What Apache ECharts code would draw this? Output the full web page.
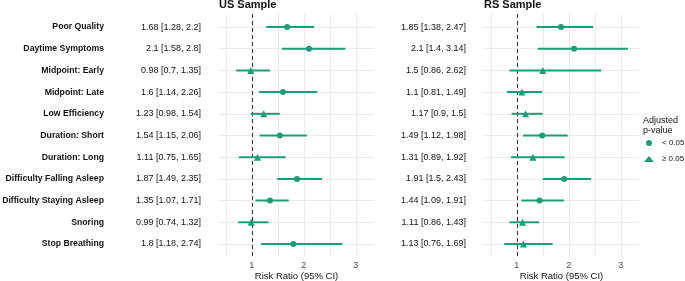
<!DOCTYPE html>
<html>
<head>
<meta charset="utf-8">
<script src="https://cdn.jsdelivr.net/npm/echarts@6/dist/echarts.min.js"></script>
<style>
	html, body { margin: 0; padding: 0; background: #fff; }
	#main { width: 685px; height: 281px; }
</style>
</head>
<body>
<div id="main"></div>
<script>
'use strict';

var categories = ['Poor Quality', 'Daytime Symptoms', 'Midpoint: Early', 'Midpoint: Late', 'Low Efficiency',
	'Duration: Short', 'Duration: Long', 'Difficulty Falling Asleep', 'Difficulty Staying Asleep', 'Snoring', 'Stop Breathing'];

// US sample
var usEst = [1.68, 2.1, 0.98, 1.6, 1.23, 1.54, 1.11, 1.87, 1.35, 0.99, 1.8];
var usLow = [1.28, 1.58, 0.7, 1.14, 0.98, 1.15, 0.75, 1.49, 1.07, 0.74, 1.18];
var usHigh = [2.2, 2.8, 1.35, 2.26, 1.54, 2.06, 1.65, 2.35, 1.71, 1.32, 2.74];
var usSig = [1, 1, 0, 1, 0, 1, 0, 1, 1, 0, 1]; // 1 = adjusted p < 0.05

// RS sample
var rsEst = [1.85, 2.1, 1.5, 1.1, 1.17, 1.49, 1.31, 1.91, 1.44, 1.11, 1.13];
var rsLow = [1.38, 1.4, 0.86, 0.81, 0.9, 1.12, 0.89, 1.5, 1.09, 0.86, 0.76];
var rsHigh = [2.47, 3.14, 2.62, 1.49, 1.5, 1.98, 1.92, 2.43, 1.91, 1.43, 1.69];
var rsSig = [1, 1, 0, 0, 0, 1, 0, 1, 1, 0, 0];

var xTicks = [1, 2, 3];
var xGrid = [0.5, 1, 1.5, 2, 2.5, 3];
var legendNames = ['< 0.05', '\u2265 0.05'];

var GREEN = '#1B9E77';
var FONT = 'Liberation Sans, Arial, sans-serif';

var rowIdx = categories.map(function (c, i) { return i + 1; });

function ciText(est, low, high, i) {
	return est[i] + ' [' + low[i] + ', ' + high[i] + ']';
}

//背景网格线
function gridSeries(k) {
	var lines = [];
	xGrid.forEach(function (v) { lines.push({ xAxis: v }); });
	rowIdx.forEach(function (v) { lines.push({ yAxis: v }); });
	return {
		type: 'line', xAxisIndex: k, yAxisIndex: k, data: [], z: 1, silent: true,
		markLine: {
			z: 1, silent: true, symbol: 'none', animation: false,
			label: { show: false },
			emphasis: { disabled: true },
			lineStyle: { color: '#EBEBEB', width: 1, type: 'solid' },
			data: lines
		}
	};
}

//x=1 参考线
function refSeries(k) {
	return {
		type: 'line', xAxisIndex: k, yAxisIndex: k, data: [], z: 2, silent: true,
		markLine: {
			z: 2, silent: true, symbol: 'none', animation: false,
			label: { show: false },
			emphasis: { disabled: true },
			lineStyle: { color: '#3a3a3a', width: 1.1, type: [4, 3] },
			data: [{ xAxis: 1 }]
		}
	};
}

function barSeries(k, low, high) {
	return {
		type: 'custom', xAxisIndex: k, yAxisIndex: k, z: 3, silent: true,
		data: low.map(function (v, i) { return [v, high[i], i + 1]; }),
		renderItem: function (params, api) {
			var a = api.coord([api.value(0), api.value(2)]);
			var b = api.coord([api.value(1), api.value(2)]);
			return {
				type: 'line',
				shape: { x1: a[0], y1: a[1], x2: b[0], y2: b[1] },
				style: { stroke: GREEN, lineWidth: 2 }
			};
		}
	};
}

function pointSeries(k, est, sig, want) {
	var data = [];
	for (var i = 0; i < est.length; i++) {
		if (sig[i] == want) {
			data.push([est[i], i + 1]);
		}
	}
	return {
		type: 'scatter', name: want ? legendNames[0] : legendNames[1],
		xAxisIndex: k, yAxisIndex: k, z: 4,
		symbol: want ? 'circle' : 'triangle',
		symbolSize: want ? 6 : 7,
		itemStyle: { color: GREEN, opacity: 1 },
		data: data
	};
}

function xAxisFor(k) {
	return {
		type: 'value', gridIndex: k, min: 0.37, max: 3.35,
		axisLine: { show: false }, axisTick: { show: false }, splitLine: { show: false },
		axisLabel: { customValues: xTicks, color: '#4D4D4D', fontSize: 9, fontFamily: FONT, margin: 4 },
		name: 'Risk Ratio (95% CI)', nameLocation: 'middle', nameGap: 14, nameMoveOverlap: false,
		nameTextStyle: { color: '#111', fontSize: 9.5, fontFamily: FONT }
	};
}

function yAxisFor(k, margin, formatter, rich) {
	return {
		type: 'value', gridIndex: k, min: 0.4, max: 11.6, inverse: true,
		axisLine: { show: false }, axisTick: { show: false }, splitLine: { show: false },
		axisLabel: {
			customValues: rowIdx, margin: margin, color: '#111', fontSize: 9, fontFamily: FONT,
			formatter: formatter, rich: rich
		}
	};
}

var usRich = {
	n: { fontWeight: 'bold', fontSize: 8.7, fontFamily: FONT, color: '#111', width: 104, align: 'right' },
	e: { fontSize: 9, fontFamily: FONT, color: '#111', width: 97, align: 'right' }
};

var option = {
	animation: false,
	backgroundColor: '#fff',
	title: [
		{ text: 'US Sample', left: 219, top: -1, padding: 0, textStyle: { fontSize: 11, fontWeight: 'bold', color: '#111', fontFamily: FONT } },
		{ text: 'RS Sample', left: 484, top: -1, padding: 0, textStyle: { fontSize: 11, fontWeight: 'bold', color: '#111', fontFamily: FONT } },
		{ text: 'Adjusted\np-value', left: 643, top: 116, padding: 0, textStyle: { fontSize: 9, fontWeight: 'normal', color: '#111', fontFamily: FONT, lineHeight: 10 } }
	],
	legend: {
		orient: 'vertical', left: 644, top: 139, padding: 0, itemWidth: 10, itemHeight: 6, itemGap: 8,
		textStyle: { fontSize: 8, color: '#111', fontFamily: FONT, padding: [0, 0, 0, 3] },
		data: [{ name: legendNames[0], icon: 'circle' }, { name: legendNames[1], icon: 'triangle' }]
	},
	grid: [
		{ left: 219, top: 14, width: 155, height: 243, outerBoundsMode: 'none' },
		{ left: 484, top: 14, width: 155, height: 243, outerBoundsMode: 'none' }
	],
	xAxis: [xAxisFor(0), xAxisFor(1)],
	yAxis: [
		yAxisFor(0, 18, function (v) {
			var i = Math.round(v) - 1;
			return '{n|' + categories[i] + '}{e|' + ciText(usEst, usLow, usHigh, i) + '}';
		}, usRich),
		yAxisFor(1, 18, function (v) {
			var i = Math.round(v) - 1;
			return ciText(rsEst, rsLow, rsHigh, i);
		})
	],
	series: [
		gridSeries(0), refSeries(0), barSeries(0, usLow, usHigh),
		pointSeries(0, usEst, usSig, 1), pointSeries(0, usEst, usSig, 0),
		gridSeries(1), refSeries(1), barSeries(1, rsLow, rsHigh),
		pointSeries(1, rsEst, rsSig, 1), pointSeries(1, rsEst, rsSig, 0)
	]
};

var chart = echarts.init(document.getElementById('main'), null, { renderer: 'canvas' });
chart.setOption(option);
</script>
</body>
</html>
